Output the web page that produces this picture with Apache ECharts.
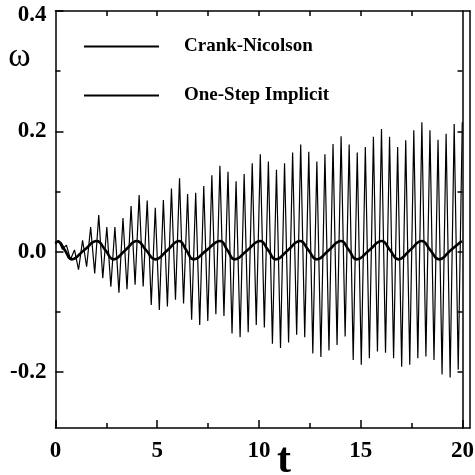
<!DOCTYPE html>
<html>
<head>
<meta charset="utf-8">
<script src="https://cdn.jsdelivr.net/npm/echarts@6/dist/echarts.min.js"></script>
<style>html,body{margin:0;padding:0;background:#fff}#c{width:475px;height:475px}</style>
</head>
<body>
<div id="c"></div>
<script>
// ---- data ----
const seriesNames = ['Crank-Nicolson', 'One-Step Implicit'];

// Crank-Nicolson: value at t = 0, then samples every cnStep starting at cnFirstTime
const cnStartValue = 0.012;
const cnFirstTime = 0.14;
const cnStep = 0.1985;
const cnValues = [
  0.019, 0.004, 0.011, -0.013, 0.003, -0.030, 0.019, -0.025, 0.041, -0.036,
  0.061, -0.044, 0.041, -0.058, 0.041, -0.068, 0.056, -0.0625, 0.076, -0.055,
  0.094, -0.058, 0.085, -0.0885, 0.073, -0.097, 0.086, -0.091, 0.105, -0.080,
  0.122, -0.086, 0.096, -0.113, 0.098, -0.122, 0.109, -0.115, 0.127, -0.104,
  0.143, -0.107, 0.133, -0.136, 0.117, -0.142, 0.129, -0.134, 0.147, -0.122,
  0.162, -0.126, 0.150, -0.153, 0.136, -0.160, 0.147, -0.151, 0.165, -0.138,
  0.178, -0.142, 0.166, -0.169, 0.150, -0.175, 0.162, -0.164, 0.179, -0.155,
  0.192, -0.141, 0.178, -0.180, 0.165, -0.188, 0.174, -0.177, 0.191, -0.166,
  0.204, -0.168, 0.191, -0.177, 0.174, -0.191, 0.185, -0.188, 0.202, -0.177,
  0.215, -0.174, 0.202, -0.180, 0.186, -0.204, 0.196, -0.209, 0.212, -0.196,
  0.215
];

// One-Step Implicit: smooth curve, read at peaks / troughs / mid crossings
const osTimes = [
  0, 0.12, 0.45, 0.8, 1.4, 2.03, 2.45, 2.85, 3.43, 4.0,
  4.45, 4.9, 5.5, 6.07, 6.43, 6.78, 7.43, 8.09, 8.45, 8.8,
  9.43, 10.06, 10.45, 10.83, 11.42, 12.02, 12.43, 12.84, 13.43, 14.03,
  14.42, 14.8, 15.42, 16.03, 16.44, 16.85, 17.42, 18.0, 18.42, 18.85,
  19.42, 19.97
];
const osValues = [
  0.014, 0.017, 0.003, -0.0127, 0.0025, 0.0177, 0.0025, -0.0127, 0.0025, 0.0177,
  0.0025, -0.0127, 0.0025, 0.0177, 0.0025, -0.0127, 0.0025, 0.0177, 0.0025, -0.0127,
  0.0025, 0.0177, 0.0025, -0.0127, 0.0025, 0.0177, 0.0025, -0.0127, 0.0025, 0.0177,
  0.0025, -0.0127, 0.0025, 0.0177, 0.0025, -0.0127, 0.0025, 0.0177, 0.0025, -0.0127,
  0.0025, 0.0177
];

// axis ticks / labels
const xMajorTicks = [0, 5, 10, 15, 20];
const xMinorTicks = [2.5, 7.5, 12.5, 17.5];
const xTopTicks = [2.5, 5, 7.5, 10, 12.5, 15, 17.5];
const yMajorTicks = [-0.2, 0, 0.2, 0.4];
const yMinorTicks = [-0.1, 0.1, 0.3];
const yRightTicks = [-0.2, -0.1, 0, 0.1, 0.2, 0.3];
const xMin = 0, xMax = 20.37, yMin = -0.293, yMax = 0.4;

// ---- build ----
const cnData = [[0, cnStartValue]];
cnValues.forEach((v, i) => cnData.push([cnFirstTime + i * cnStep, v]));
const osData = osTimes.map((t, i) => [t, osValues[i]]);

const FONT = '"Liberation Serif", "Times New Roman", serif';
const black = '#000';
const lineS = { color: black, width: 1.5 };

function xAx(pos, ticks, len, showLine, labels) {
  return {
    type: 'value', position: pos, min: xMin, max: xMax,
    axisLine: { show: showLine, onZero: false, lineStyle: lineS },
    axisTick: { show: true, inside: true, length: len, customValues: ticks, lineStyle: lineS },
    axisLabel: labels ? {
      customValues: labels, margin: 12, color: black, fontFamily: FONT,
      fontWeight: 'bold', fontSize: 23
    } : { show: false },
    splitLine: { show: false }
  };
}
function yAx(pos, ticks, len, showLine, labels, offset) {
  return {
    type: 'value', position: pos, min: yMin, max: yMax, offset: offset || 0,
    axisLine: { show: showLine, onZero: false, lineStyle: lineS },
    axisTick: ticks ? { show: true, inside: true, length: len, customValues: ticks, lineStyle: lineS } : { show: false },
    axisLabel: labels ? {
      customValues: labels, margin: 9, color: black, fontFamily: FONT,
      fontWeight: 'bold', fontSize: 23,
      formatter: v => (v === yMax ? '{top|' + v.toFixed(1) + '}' : v.toFixed(1)),
      rich: { top: { fontFamily: FONT, fontWeight: 'bold', fontSize: 23, color: black, padding: [9, 0, 0, 0] } }
    } : { show: false },
    splitLine: { show: false }
  };
}

const chart = echarts.init(document.getElementById('c'), null, { renderer: 'canvas' });
chart.setOption({
  animation: false,
  backgroundColor: '#fff',
  grid: { left: 55.5, top: 11, width: 414.5, height: 417, outerBoundsMode: 'none', containLabel: false },
  xAxis: [
    xAx('bottom', xMajorTicks, 8, true, xMajorTicks),
    xAx('bottom', xMinorTicks, 5, false, null),
    xAx('top', xTopTicks, 5, true, null)
  ],
  yAxis: [
    yAx('left', yMajorTicks, 8, true, yMajorTicks, 0),
    yAx('left', yMinorTicks, 5, false, null, 0),
    yAx('right', null, 0, true, null, 0),
    yAx('right', yRightTicks, 5, true, null, -7.5)
  ],
  legend: {
    data: seriesNames, orient: 'vertical', left: 83, top: 37, padding: 0,
    itemWidth: 75, itemHeight: 14, itemGap: 30, selectedMode: false,
    itemStyle: { opacity: 0, borderWidth: 0 },
    textStyle: { fontFamily: FONT, fontWeight: 'bold', fontSize: 19, color: black, padding: [0, 0, 0, 20] }
  },
  graphic: [
    { type: 'text', x: 19.5, y: 57, style: { text: 'ω', fontFamily: FONT, fontSize: 34, fill: black, align: 'center', verticalAlign: 'middle' } },
    { type: 'text', x: 284, y: 461, style: { text: 't', fontFamily: FONT, fontWeight: 'bold', fontSize: 42, fill: black, align: 'center', verticalAlign: 'middle' } }
  ],
  series: [
    {
      name: seriesNames[0], type: 'line', xAxisIndex: 0, yAxisIndex: 0,
      data: cnData, symbol: 'none', showSymbol: false,
      lineStyle: { color: '#000', width: 1.2 }, itemStyle: { color: '#000' }, z: 2
    },
    {
      name: seriesNames[1], type: 'line', xAxisIndex: 0, yAxisIndex: 0,
      data: osData, symbol: 'none', showSymbol: false, smooth: true,
      lineStyle: { color: black, width: 2.6 }, itemStyle: { color: black }, z: 3
    }
  ]
});
</script>
</body>
</html>
